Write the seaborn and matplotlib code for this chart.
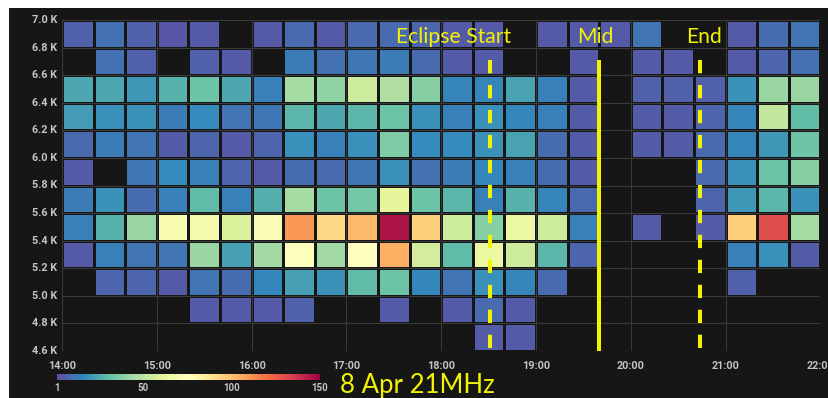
import numpy as np
import pandas as pd
import matplotlib
matplotlib.use("Agg")
import matplotlib.pyplot as plt
import seaborn as sns
from matplotlib.patches import Rectangle

# 20-minute time buckets (UTC) and 200 Hz frequency buckets (lower edge, top row first)
time_bins = ["14:00", "14:20", "14:40", "15:00", "15:20", "15:40",
             "16:00", "16:20", "16:40", "17:00", "17:20", "17:40",
             "18:00", "18:20", "18:40", "19:00", "19:20", "19:40",
             "20:00", "20:20", "20:40", "21:00", "21:20", "21:40"]
freq_bins = ["6.8 K", "6.6 K", "6.4 K", "6.2 K", "6.0 K", "5.8 K",
             "5.6 K", "5.4 K", "5.2 K", "5.0 K", "4.8 K", "4.6 K"]

# spot counts per bucket, one list per frequency row
row_68 = [6, 10, 6, 3, 4, 0, 4, 8, 4, 8, 8, 7, 4, 4, 0, 4, 4, 4, 11, 0, 0, 4, 9, 11]
row_66 = [0, 10, 6, 0, 6, 4, 0, 13, 10, 12, 13, 8, 5, 5, 0, 0, 4, 0, 5, 4, 0, 4, 7, 10]
row_64 = [24, 24, 20, 27, 32, 24, 14, 45, 40, 54, 47, 38, 15, 15, 23, 14, 5, 0, 6, 6, 6, 19, 42, 42]
row_62 = [21, 18, 19, 13, 17, 11, 12, 28, 24, 28, 32, 18, 14, 18, 16, 14, 5, 0, 5, 5, 7, 15, 52, 30]
row_60 = [8, 13, 11, 5, 7, 4, 7, 18, 14, 18, 36, 17, 17, 19, 23, 9, 5, 0, 5, 5, 8, 15, 20, 33]
row_58 = [5, 0, 12, 17, 14, 7, 5, 9, 8, 12, 18, 10, 13, 16, 14, 9, 5, 0, 0, 0, 8, 18, 32, 38]
row_56 = [13, 19, 9, 14, 29, 14, 26, 45, 32, 34, 62, 32, 28, 14, 27, 15, 8, 0, 0, 0, 7, 20, 28, 19]
row_54 = [14, 27, 42, 70, 68, 58, 72, 110, 92, 102, 145, 95, 54, 38, 64, 54, 14, 0, 4, 0, 5, 95, 130, 45]
row_52 = [4, 14, 11, 11, 42, 22, 44, 74, 44, 76, 105, 56, 29, 64, 54, 28, 7, 0, 0, 0, 0, 14, 18, 5]
row_50 = [0, 7, 7, 4, 11, 9, 16, 22, 19, 29, 32, 16, 11, 18, 15, 8, 0, 0, 0, 0, 0, 6, 0, 0]
row_48 = [0, 0, 0, 0, 4, 4, 4, 6, 0, 0, 5, 0, 5, 8, 5, 0, 0, 0, 0, 0, 0, 0, 0, 0]
row_46 = [0, 0, 0, 0, 0, 0, 0, 0, 0, 0, 0, 0, 0, 5, 5, 0, 0, 0, 0, 0, 0, 0, 0, 0]

hour_labels = ["14:00", "15:00", "16:00", "17:00", "18:00",
               "19:00", "20:00", "21:00", "22:00"]
edge_labels = ["7.0 K", "6.8 K", "6.6 K", "6.4 K", "6.2 K", "6.0 K", "5.8 K",
               "5.6 K", "5.4 K", "5.2 K", "5.0 K", "4.8 K", "4.6 K"]
cbar_ticks = [1, 50, 100, 150]

# eclipse contact times (UTC)
eclipse_names = ["Eclipse Start", "Mid", "End"]
eclipse_times = ["18:31", "19:40", "20:44"]
eclipse_styles = ["dashed", "solid", "dashed"]

title_text = "8 Apr 21MHz"

PANEL = "#161616"
GRID = "#3a3a3a"
TICK = "#c4c4c4"
YELLOW = "#f2f205"

counts = pd.DataFrame([row_68, row_66, row_64, row_62, row_60, row_58,
                       row_56, row_54, row_52, row_50, row_48, row_46],
                      index=freq_bins, columns=time_bins)

plt.rcParams["font.family"] = ["Roboto", "DejaVu Sans"]

W, H = 829, 398
fig = plt.figure(figsize=(W / 100, H / 100), dpi=100, facecolor="white")
# dark panel, leaving a thin light margin at the top and left
fig.patches.append(Rectangle((9 / W, 0), 1 - 9 / W, 390 / H,
                             transform=fig.transFigure, facecolor=PANEL,
                             edgecolor="none", zorder=-10))

ax = fig.add_axes([62 / W, 47 / H, 758.4 / W, 331 / H])
cax = fig.add_axes([57 / W, 18 / H, 263 / W, 6 / H])

sns.heatmap(counts, ax=ax, cmap="Spectral_r", vmin=1, vmax=150,
            mask=counts == 0, linewidths=1.8, linecolor=PANEL,
            cbar_ax=cax, cbar_kws=dict(orientation="horizontal", ticks=cbar_ticks))
ax.set_facecolor(PANEL)

# grid along hour and bucket boundaries
for i in range(len(freq_bins) + 1):
    ax.axhline(i, color=GRID, lw=0.8, zorder=3)
for j in range(0, len(time_bins) + 1, 3):
    ax.axvline(j, color=GRID, lw=0.8, zorder=3)

ax.set_xticks(range(0, len(time_bins) + 1, 3))
ax.set_xticklabels(hour_labels, rotation=0)
ax.set_yticks(range(len(freq_bins) + 1))
ax.set_yticklabels(edge_labels, rotation=0)
ax.tick_params(axis="x", length=0, colors=TICK, labelsize=7.8, pad=7)
ax.tick_params(axis="y", length=0, colors=TICK, labelsize=7.8, pad=3.5)
for lab in ax.get_xticklabels() + ax.get_yticklabels():
    lab.set_fontweight("bold")
ax.set_xlabel("")
ax.set_ylabel("")
for s in ax.spines.values():
    s.set_visible(False)

cbar = ax.collections[0].colorbar
cbar.outline.set_visible(False)
cax.tick_params(length=0, colors=TICK, labelsize=7, pad=2)
for lab in cax.get_xticklabels():
    lab.set_fontweight("bold")


def to_col(hhmm):
    h, m = hhmm.split(":")
    return ((int(h) - 14) * 60 + int(m)) / 20.0


label_dx = [-1.16, -0.12, 0.11]
for name, t, style, dx in zip(eclipse_names, eclipse_times, eclipse_styles, label_dx):
    xc = to_col(t)
    ls = (0, (3.3, 2.9)) if style == "dashed" else "-"
    ax.plot([xc, xc], [1.44, 12.0], color=YELLOW, lw=2.9, ls=ls,
            solid_capstyle="butt", dash_capstyle="butt", zorder=5, clip_on=False)
    ax.text(xc + dx, 0.82, name, color=YELLOW, fontsize=15.2, ha="center",
            va="baseline", family=["Lato", "DejaVu Sans"], zorder=6)

fig.text(340 / W, 5 / H, title_text, color=YELLOW, fontsize=18.5,
         ha="left", va="baseline", family=["Lato", "DejaVu Sans"])

fig.savefig("out.png", dpi=100, facecolor=fig.get_facecolor())
